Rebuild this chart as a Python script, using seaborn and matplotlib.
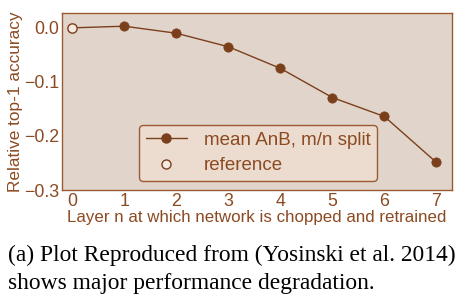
import matplotlib
matplotlib.use("Agg")
import matplotlib.pyplot as plt
from matplotlib.lines import Line2D
import seaborn as sns
import pandas as pd

layers = [0, 1, 2, 3, 4, 5, 6, 7]
mean_anb = [0.0, 0.003, -0.010, -0.035, -0.075, -0.129, -0.164, -0.249]
ref_x = [0]
ref_y = [0.0]
yticks = [0.0, -0.1, -0.2, -0.3]

brown = "#7b3f1c"
text_brown = "#8c4a22"
bg = "#e1d5cb"

sns.set_theme(style="white")
plt.rcParams['font.family'] = ['Liberation Sans', 'DejaVu Sans']

fig = plt.figure(figsize=(4.6, 3.06), dpi=100)
ax = fig.add_axes([62/460, 1-190/306, 390/460, (190-12.7)/306])
ax.set_facecolor(bg)

df = pd.DataFrame({"layer": layers, "acc": mean_anb})
sns.lineplot(data=df, x="layer", y="acc", ax=ax, color=brown, linewidth=1.0)
sns.scatterplot(data=df[df.layer > 0], x="layer", y="acc", ax=ax, color=brown,
                s=45, edgecolor=brown, linewidth=0.5, zorder=3)
sns.scatterplot(x=ref_x, y=ref_y, ax=ax, color="#f6e9de", edgecolor=brown,
                s=45, linewidth=1.0, zorder=4)

ax.set_xlim(-0.2, 7.3)
ax.set_ylim(-0.3, 0.028)
ax.set_xticks(layers)
ax.set_xticklabels([str(v) for v in layers])
ax.set_yticks(yticks)
ax.set_yticklabels(["0.0", "\u22120.1", "\u22120.2", "\u22120.3"])
ax.tick_params(axis="both", colors=text_brown, labelsize=12.8, length=0, pad=2)
for s in ax.spines.values():
    s.set_color("#9a5b33")
    s.set_linewidth(1.0)

ax.set_xlabel("Layer n at which network is chopped and retrained", color=text_brown,
              fontsize=12.2, labelpad=0)
ax.set_ylabel("Relative top-1 accuracy", color=text_brown, fontsize=12.4, labelpad=1)

handles = [
    Line2D([0], [0], color=brown, lw=1.0, marker="o", markersize=6.5,
           markerfacecolor=brown, markeredgecolor=brown),
    Line2D([0], [0], color="none", marker="o", markersize=6.5,
           markerfacecolor="#f6e9de", markeredgecolor=brown),
]
leg = ax.legend(handles, ["mean AnB, m/n split", "reference"], loc="lower left",
                bbox_to_anchor=((139-62)/390, (190-181)/177.3), fontsize=13.5, frameon=True,
                fancybox=True, handlelength=2.2, handletextpad=0.9, borderpad=0.35,
                labelspacing=0.45, borderaxespad=0)
leg.get_frame().set_facecolor("#ecdccf")
leg.get_frame().set_edgecolor("#9a5b33")
leg.get_frame().set_alpha(1)
for t in leg.get_texts():
    t.set_color(text_brown)

fig.text(8/460, 1-255/306, "(a) Plot Reproduced from (Yosinski et al. 2014)",
         family="Liberation Serif", fontsize=16.9, color="black", va="center", ha="left")
fig.text(8/460, 1-283/306, "shows major performance degradation.",
         family="Liberation Serif", fontsize=16.9, color="black", va="center", ha="left")

fig.savefig("out.png", dpi=100, facecolor="white")
